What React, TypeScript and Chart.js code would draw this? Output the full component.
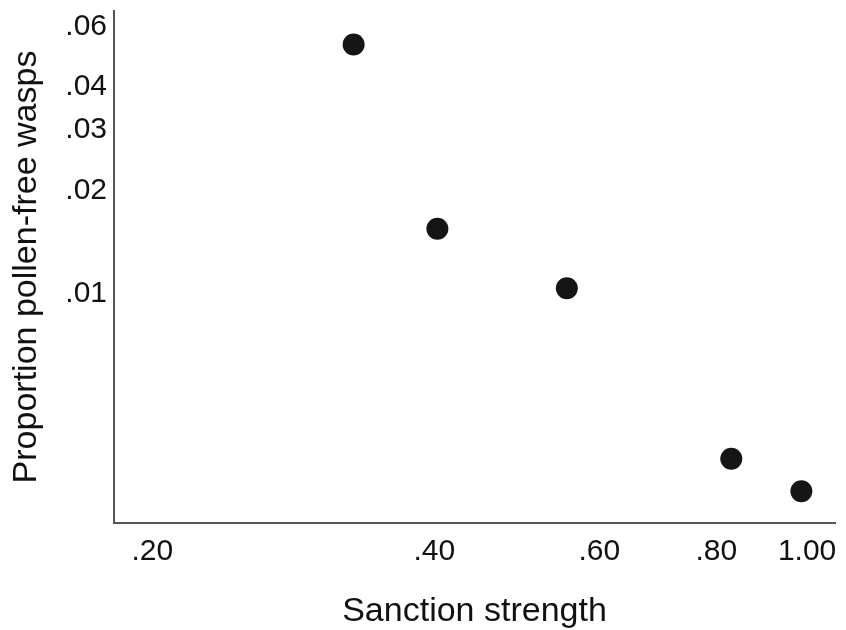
import React, { useEffect, useRef } from "react";
import { Chart, registerables } from "chart.js";

Chart.register(...registerables);

const sanctionStrength = [0.328, 0.403, 0.554, 0.830, 0.986];
const pollenFree = [0.0532, 0.0155, 0.0104, 0.00332, 0.00267];
const xTickValues = [0.2, 0.4, 0.6, 0.8, 1.0];
const yTickValues = [0.01, 0.02, 0.03, 0.04, 0.06];

const fmt = (v: number) => {
  const s = v.toFixed(2);
  return s.startsWith("0") ? s.slice(1) : s;
};

export default function App() {
  const ref = useRef<HTMLCanvasElement | null>(null);

  useEffect(() => {
    if (!ref.current) return;
    const font = "'Liberation Sans', Arial, sans-serif";
    const chart = new Chart(ref.current, {
      type: "scatter",
      data: {
        datasets: [
          {
            data: sanctionStrength.map((x, i) => ({ x, y: pollenFree[i] })),
            backgroundColor: "#151515",
            borderWidth: 0,
            pointRadius: 11,
          },
        ],
      },
      options: {
        responsive: false,
        animation: false,
        layout: { padding: { top: 9, right: 8, left: 0, bottom: 0 } },
        plugins: { legend: { display: false }, tooltip: { enabled: false } },
        scales: {
          x: {
            type: "logarithmic",
            min: 0.182,
            max: 1.071,
            grid: { display: false, drawTicks: false },
            border: { display: true, color: "#555555", width: 2 },
            afterBuildTicks: (scale: any) => {
              scale.ticks = xTickValues.map((v) => ({ value: v }));
            },
            afterFit: (scale: any) => {
              scale.height = 107;
              scale.paddingLeft = 0;
              scale.paddingRight = 0;
            },
            ticks: {
              autoSkip: false,
              maxRotation: 0,
              padding: 11,
              color: "#111111",
              font: { family: font, size: 30 },
              callback: (v: any) => fmt(Number(v)),
            },
            title: {
              display: true,
              text: "Sanction strength",
              color: "#111111",
              font: { family: font, size: 34, lineHeight: 1.0 },
              padding: { top: 0, bottom: 1 },
            },
          },
          y: {
            type: "logarithmic",
            min: 0.00216,
            max: 0.0666,
            grid: { display: false, drawTicks: false },
            border: { display: true, color: "#555555", width: 2 },
            afterBuildTicks: (scale: any) => {
              scale.ticks = yTickValues.map((v) => ({ value: v }));
            },
            afterFit: (scale: any) => {
              scale.width = 114;
              scale.paddingTop = 0;
              scale.paddingBottom = 0;
            },
            ticks: {
              autoSkip: false,
              padding: 7,
              color: "#111111",
              font: { family: font, size: 30 },
              callback: (v: any) => fmt(Number(v)),
            },
            title: {
              display: true,
              text: "Proportion pollen-free wasps",
              color: "#111111",
              font: { family: font, size: 34, lineHeight: 1.0 },
              padding: { top: 10, bottom: 0 },
            },
          },
        },
      },
    });
    return () => chart.destroy();
  }, []);

  return (
    <div style={{ position: "fixed", left: 0, top: 0, width: 846, height: 630, background: "#fff" }}>
      <canvas ref={ref} width={846} height={630} />
    </div>
  );
}
